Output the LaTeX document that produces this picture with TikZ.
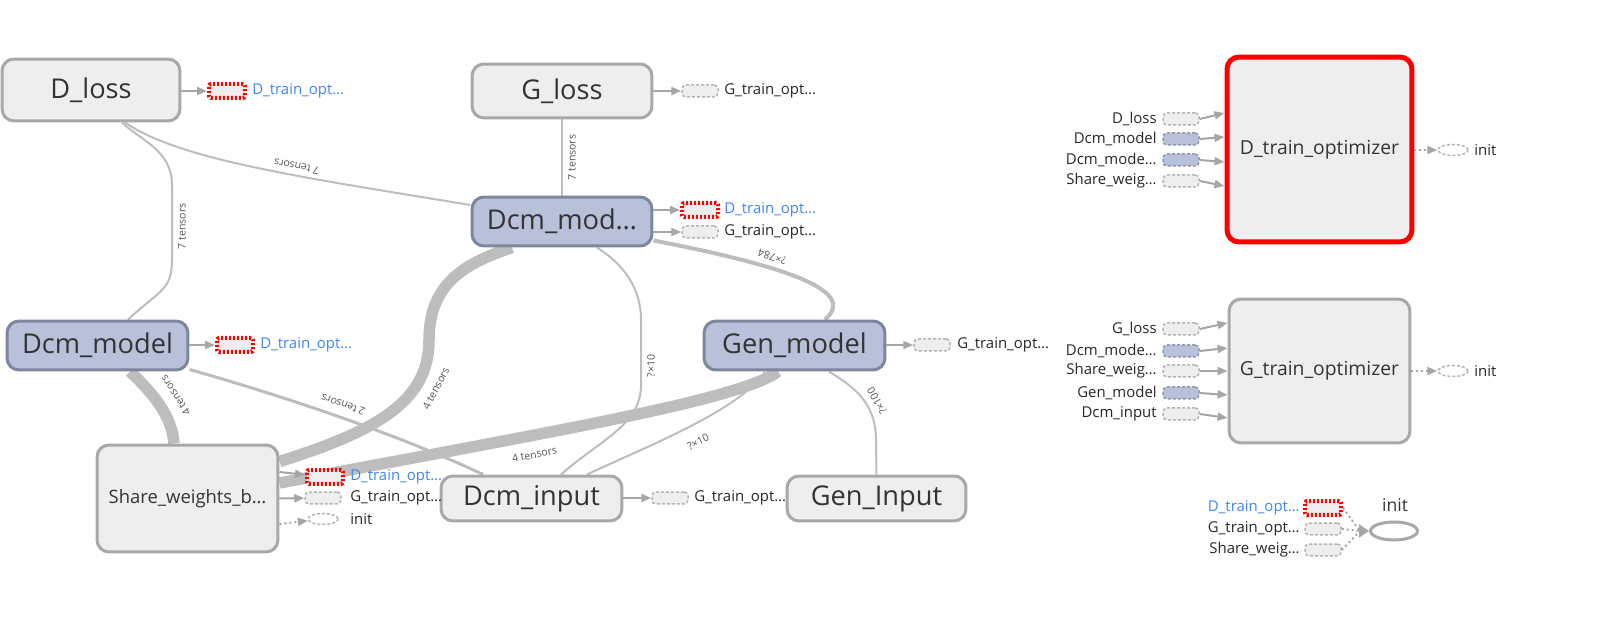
\documentclass[tikz,border=0pt]{standalone}
\usepackage{fontspec}
\setmainfont{Open Sans}
\usepackage{tikz}
\usetikzlibrary{arrows.meta,shapes.geometric,positioning,backgrounds}
\definecolor{opfill}{HTML}{EEEEEE}
\definecolor{opline}{HTML}{A8A8A8}
\definecolor{modfill}{HTML}{B8C1D9}
\definecolor{modline}{HTML}{7C869C}
\definecolor{stubline}{HTML}{B4B4B4}
\definecolor{modstubline}{HTML}{8E98B0}
\definecolor{edgecol}{HTML}{BDBDBD}
\definecolor{arrowcol}{HTML}{A6A6A6}
\definecolor{dblue}{HTML}{3F86F0}
\definecolor{txtcol}{HTML}{333333}
\definecolor{elabel}{HTML}{555555}

\begin{document}
\begin{tikzpicture}[x=0.02cm,y=-0.02cm,
  op/.style={draw=opline,line width=0.06cm,rounded corners=0.24cm,fill=opfill,inner sep=0pt,
    text=txtcol,font=\fontsize{15.5}{18}\selectfont},
  model/.style={op,fill=modfill,draw=modline},
  optim/.style={op,font=\fontsize{11}{13}\selectfont},
  stub/.style={draw=stubline,line width=0.03cm,dash pattern=on 0.06cm off 0.04cm,fill=opfill,
    rounded corners=0.08cm,minimum width=0.72cm,minimum height=0.24cm,inner sep=0pt},
  bluestub/.style={stub,fill=modfill,draw=modstubline},
  redstub/.style={stub,draw=red,line width=0.08cm,dash pattern=on 0.04cm off 0.04cm,
    rounded corners=0.04cm,minimum width=0.72cm,minimum height=0.28cm},
  initstub/.style={ellipse,draw=stubline,line width=0.03cm,dash pattern=on 0.06cm off 0.04cm,
    fill=white,minimum width=0.6cm,minimum height=0.22cm,inner sep=0pt},
  lbl/.style={font=\fontsize{8.5}{10}\selectfont,inner sep=0pt,anchor=west,text=black!85},
  dlbl/.style={lbl,text=dblue},
  elbl/.style={font=\fontsize{6}{7}\selectfont,text=elabel,inner sep=1.5pt,sloped},
  tensor/.style={draw=edgecol,line width=0.04cm},
  fat/.style={draw=edgecol,line width=0.23cm},
  link/.style={draw=arrowcol,line width=0.04cm,-{Triangle[length=0.2cm,width=0.16cm]}},
  ctrl/.style={link,dash pattern=on 0.04cm off 0.06cm}]

  \useasboundingbox (0,0) rectangle (1617,621);

  % Main graph nodes
  \node[op,minimum width=3.56cm,minimum height=1.24cm] (dloss) at (91,90) {D\_loss};
  \node[op,minimum width=3.6cm,minimum height=1.08cm] (gloss) at (562,91) {G\_loss};
  \node[model,minimum width=3.6cm,minimum height=0.98cm] (dcmmod) at (562,221.5) {Dcm\_mod…};
  \node[model,minimum width=3.62cm,minimum height=0.98cm] (dcmmodel) at (97.5,345.5) {Dcm\_model};
  \node[model,minimum width=3.62cm,minimum height=0.98cm] (genmodel) at (794.5,345.5) {Gen\_model};
  \node[op,font=\fontsize{10.5}{12}\selectfont,minimum width=3.62cm,minimum height=2.14cm] (share) at (187.5,498.5) {Share\_weights\_b…};
  \node[op,minimum width=3.62cm,minimum height=0.9cm] (dcminput) at (531.5,498.5) {Dcm\_input};
  \node[op,minimum width=3.58cm,minimum height=0.9cm] (geninput) at (876.5,498.5) {Gen\_Input};

  % Output stubs of the main graph
  \node[redstub] (dloss-out) at (227,91) {};
  \node[dlbl] (dloss-lbl) at (252,91) {D\_train\_opt…};
  \node[stub] (gloss-out) at (700,91) {};
  \node[lbl] (gloss-lbl) at (724,91) {G\_train\_opt…};
  \node[redstub] (dcmmod-out1) at (700,210) {};
  \node[dlbl] (dcmmod-lbl1) at (724,210) {D\_train\_opt…};
  \node[stub] (dcmmod-out2) at (700,232) {};
  \node[lbl] (dcmmod-lbl2) at (724,232) {G\_train\_opt…};
  \node[redstub] (dcmmodel-out) at (235,345) {};
  \node[dlbl] (dcmmodel-lbl) at (260,345) {D\_train\_opt…};
  \node[stub] (genmodel-out) at (932,345) {};
  \node[lbl] (genmodel-lbl) at (957,345) {G\_train\_opt…};
  \node[redstub] (share-out1) at (325,477) {};
  \node[dlbl] (share-lbl1) at (350,477) {D\_train\_opt…};
  \node[stub] (share-out2) at (323,498) {};
  \node[lbl] (share-lbl2) at (350,498) {G\_train\_opt…};
  \node[initstub] (share-out3) at (323,519) {};
  \node[lbl] (share-lbl3) at (350,519) {init};
  \node[stub] (dcminput-out) at (670,498) {};
  \node[lbl] (dcminput-lbl) at (694,498) {G\_train\_opt…};

  \draw[link] (dloss.east |- dloss-out) -- (dloss-out);
  \draw[link] (gloss.east |- gloss-out) -- (gloss-out);
  \draw[link] (dcmmod.east |- dcmmod-out1) -- (dcmmod-out1);
  \draw[link] (dcmmod.east |- dcmmod-out2) -- (dcmmod-out2);
  \draw[link] (dcmmodel.east |- dcmmodel-out) -- (dcmmodel-out);
  \draw[link] (genmodel.east |- genmodel-out) -- (genmodel-out);
  \draw[link] ([yshift=0.53cm]share.east) -- (share-out1);
  \draw[link] (share.east) -- (share-out2);
  \draw[ctrl] ([yshift=-0.51cm]share.east) -- (share-out3);
  \draw[link] (dcminput.east |- dcminput-out) -- (dcminput-out);

  % Tensor edges
  \begin{scope}[on background layer]
  \draw[tensor] ([yshift=0.33cm]dcmmod.west) .. controls (300,177) and (180,160) ..
    node[elbl,allow upside down,below=0.03cm,pos=0.39] {7 tensors} ([xshift=0.68cm]dloss.south);
  \draw[tensor] ([xshift=0.61cm]dcmmodel.north) .. controls (160,290) and (172,290) .. (172,260)
    -- node[elbl,below=0.05cm,pos=0.45] {7 tensors} (172,185) .. controls (172,150) and (140,140) .. ([xshift=0.62cm]dloss.south);
  \draw[tensor] (dcmmod.north) -- node[elbl,below=0.05cm] {7 tensors} (gloss.south);
  \draw[tensor,line width=0.08cm] ([xshift=0.61cm]genmodel.north) .. controls (860,290) and (780,265) ..
    node[elbl,allow upside down,below=0.05cm,pos=0.64] {?×784} ([yshift=0.14cm]dcmmod.south east);
  \draw[tensor] ([xshift=0.59cm]dcminput.north) .. controls (600,440) and (641,425) .. (641,385)
    -- node[elbl,below=0.05cm,pos=0.29] {?×10} (641,320) .. controls (641,285) and (620,262) .. ([xshift=0.7cm]dcmmod.south);
  \draw[tensor,line width=0.06cm] ([xshift=-0.97cm]dcminput.north) .. controls (400,435) and (280,395) ..
    node[elbl,allow upside down,below=0.09cm,pos=0.5] {2 tensors} ([yshift=0.04cm]dcmmodel.south east);
  \draw[tensor] ([xshift=1.11cm]dcminput.north) .. controls (650,445) and (740,410) ..
    node[elbl,below=0.2cm,pos=0.5] {?×10} ([xshift=-0.59cm]genmodel.south);
  \draw[tensor] (geninput.north) -- (876,440) .. controls (876,400) and (850,385) ..
    node[elbl,allow upside down,below=0.06cm,pos=0.35] {?×100} ([xshift=0.69cm]genmodel.south);
  \draw[fat] ([xshift=-0.27cm]share.north) .. controls (172,420) and (160,400) ..
    node[elbl,allow upside down,below=0.12cm,pos=0.55] {4 tensors} ([xshift=0.65cm]dcmmodel.south);
  \draw[fat] ([yshift=-0.36cm]share.north east) .. controls (380,430) and (429,400) ..
    node[elbl,below=0.12cm,pos=0.75] {4 tensors} (429,340) .. controls (429,280) and (470,262) .. ([xshift=-1cm]dcmmod.south);
  \draw[fat] ([yshift=0.31cm]share.east) .. controls (550,432) and (740,400) ..
    node[elbl,below=0.14cm,pos=0.35] {4 tensors} ([xshift=-0.33cm]genmodel.south);
  \end{scope}

  % D_train_optimizer
  \node[optim,draw=red,line width=0.1cm,minimum width=3.7cm,minimum height=3.7cm] (doptim) at (1319.5,149.5) {D\_train\_optimizer};
  \foreach \ys/\yt/\st/\txt [count=\i] in {119/113/stub/D\_loss, 139/137/bluestub/Dcm\_model,
      160/162/bluestub/Dcm\_mode…, 181/186/stub/Share\_weig…}{
    \node[\st] (dopt-in\i) at (1181,\ys) {};
    \node[lbl,anchor=east] (dopt-lbl\i) at (1157,\ys) {\txt};
    \coordinate (dopt-t\i) at (1227,\yt);
    \draw[link] (dopt-in\i.east) -- (doptim.west |- dopt-t\i);
  }
  \node[initstub] (dopt-init) at (1453,150) {};
  \node[lbl] (dopt-initlbl) at (1474,150) {init};
  \draw[ctrl] (doptim.east |- dopt-init) -- (dopt-init);

  % G_train_optimizer
  \node[optim,minimum width=3.62cm,minimum height=2.88cm] (goptim) at (1319.5,371) {G\_train\_optimizer};
  \foreach \ys/\yt/\st/\txt [count=\i] in {329/323/stub/G\_loss, 351/348/bluestub/Dcm\_mode…,
      371/371/stub/Share\_weig…, 393/395/bluestub/Gen\_model, 414/418/stub/Dcm\_input}{
    \node[\st] (gopt-in\i) at (1181,\ys) {};
    \node[lbl,anchor=east] (gopt-lbl\i) at (1157,\ys) {\txt};
    \coordinate (gopt-t\i) at (1229,\yt);
    \draw[link] (gopt-in\i.east) -- (goptim.west |- gopt-t\i);
  }
  \node[initstub] (gopt-init) at (1453,371) {};
  \node[lbl] (gopt-initlbl) at (1474,371) {init};
  \draw[ctrl] (goptim.east |- gopt-init) -- (gopt-init);

  % init
  \node[ellipse,draw=opline,line width=0.06cm,fill=white,minimum width=0.94cm,minimum height=0.36cm,inner sep=0pt] (initop) at (1394,531) {};
  \node[font=\fontsize{10}{12}\selectfont,text=txtcol,inner sep=0pt] (initop-lbl) at (1395,505) {init};
  \node[redstub] (init-in1) at (1323,508) {};
  \node[stub] (init-in2) at (1323,529) {};
  \node[stub] (init-in3) at (1323,550) {};
  \node[dlbl,anchor=east] (init-lbl1) at (1300,508) {D\_train\_opt…};
  \node[lbl,anchor=east] (init-lbl2) at (1300,529) {G\_train\_opt…};
  \node[lbl,anchor=east] (init-lbl3) at (1300,550) {Share\_weig…};
  \coordinate (initjoin) at (1360,531);
  \foreach \i in {1,2,3}
    \draw[draw=arrowcol,line width=0.04cm,dash pattern=on 0.04cm off 0.06cm] (init-in\i.east) -- (initjoin);
  \draw[draw=arrowcol,line width=0.04cm,-{Triangle[length=0.2cm,width=0.26cm]}] (initjoin) -- (initop.west);
\end{tikzpicture}
\end{document}
